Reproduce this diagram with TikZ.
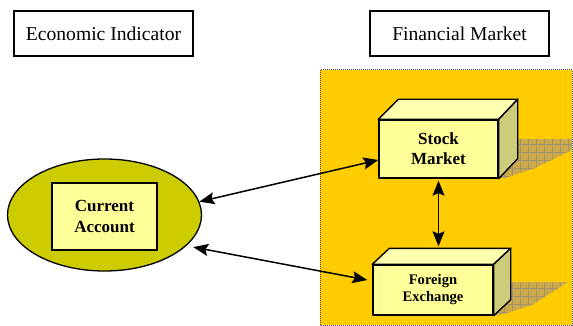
\documentclass[tikz,border=0pt]{standalone}
\usepackage{fontspec}
\setmainfont{Liberation Serif}
\usetikzlibrary{arrows.meta,shapes.geometric,calc}
\definecolor{mktc}{HTML}{FFCC00}
\definecolor{frontc}{HTML}{FFFF99}
\definecolor{topc}{HTML}{FFFFB0}
\definecolor{sidec}{HTML}{CCCC7A}
\definecolor{ellc}{HTML}{CCCC00}
\definecolor{shadowc}{HTML}{CBA94A}
\definecolor{gridc}{HTML}{A09470}
\begin{document}
\begin{tikzpicture}[x=1pt,y=-1pt,
  header/.style={draw,line width=1.2pt,minimum width=179pt,minimum height=45pt,inner sep=0pt,font=\fontsize{19.6}{23}\selectfont},
  face/.style={draw,line width=1.4pt,line join=round},
  frontface/.style={face,fill=frontc,inner sep=0pt,align=center},
  link/.style={line width=1.5pt,{Stealth[length=15pt,width=12pt,inset=2.5pt]}-{Stealth[length=15pt,width=12pt,inset=2.5pt]}},
  gridlines/.style={draw=gridc,line width=0.35pt}
]
\useasboundingbox (0,0) rectangle (573,326);
% headers
\node[header] (econ) at (103.5,33.5) {Economic Indicator};
\node[header] (fin) at (459.5,33.5) {Financial Market};
% market region
\draw[fill=mktc,line width=1pt,densely dotted,draw=black!70] (320,70) rectangle (572,325);
% shadows
\begin{scope}
  \clip (498,178) -- (517,158) -- (517,139) -- (572,139) -- (572,150) -- (535,168) -- (505,178) -- cycle;
  \fill[shadowc] (490,130) rectangle (575,185);
  \draw[gridlines,step=8pt] (490,130) grid (575,185);
\end{scope}
\begin{scope}
  \clip (493,315) -- (510,299) -- (510,282) -- (568,282) -- (532,305) -- (500,315) -- cycle;
  \fill[shadowc] (488,275) rectangle (575,320);
  \draw[gridlines,step=8pt] (488,275) grid (575,320);
\end{scope}
% stock market box
\node[frontface,minimum width=119pt,minimum height=58pt,font=\bfseries\fontsize{17}{20}\selectfont] (stock) at (438.5,149) {Stock\\Market};
\draw[face,fill=topc] (stock.north west) -- ++(20,-20) -- ($(stock.north east)+(19,-20)$) -- (stock.north east) -- cycle;
\draw[face,fill=sidec] (stock.north east) -- ++(19,-20) -- ($(stock.south east)+(19,-20)$) -- (stock.south east) -- cycle;
% foreign exchange box
\node[frontface,minimum width=120pt,minimum height=50pt,font=\bfseries\fontsize{14.6}{17}\selectfont] (fx) at (433,290) {Foreign\\Exchange};
\draw[face,fill=topc] (fx.north west) -- ++(17,-16) -- ($(fx.north east)+(17,-16)$) -- (fx.north east) -- cycle;
\draw[face,fill=sidec] (fx.north east) -- ++(17,-16) -- ($(fx.south east)+(17,-16)$) -- (fx.south east) -- cycle;
% economic indicator ellipse
\node[ellipse,draw,line width=1.3pt,fill=ellc,minimum width=194pt,minimum height=112pt,inner sep=0pt] (ell) at (104.5,215) {};
\node[draw,line width=1.3pt,fill=frontc,minimum width=105pt,minimum height=67pt,inner sep=0pt,align=center,font=\bfseries\fontsize{17}{21}\selectfont] (cur) at (104.5,216.5) {Current\\Account};
% connectors
\draw[link] (ell.8) -- ([yshift=-11pt]stock.west);
\draw[link] ([xshift=6pt,yshift=-2pt]ell.-20) -- ([xshift=-5pt,yshift=10pt]fx.west);
\draw[link] ([yshift=-2pt]stock.south) -- ([yshift=18pt]stock.south |- fx.north);
\end{tikzpicture}
\end{document}
